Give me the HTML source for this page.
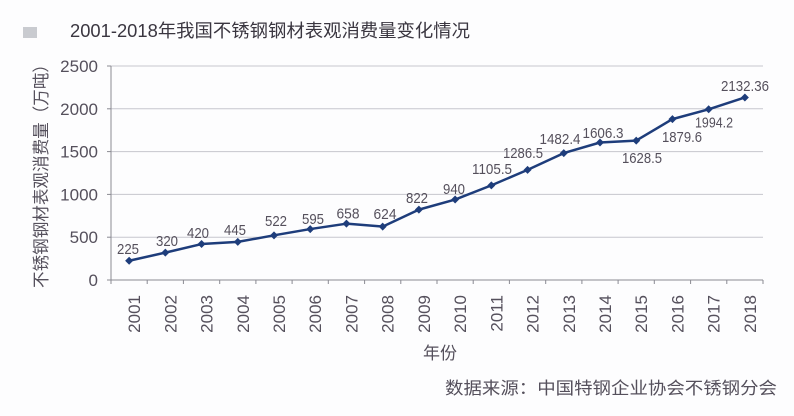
<!DOCTYPE html>
<html><head><meta charset="utf-8"><style>
html,body{margin:0;padding:0;background:#fdfdfe;}
svg{display:block;}
text{font-family:"Liberation Sans","Noto Sans CJK SC",sans-serif;fill:#55505c;}
</style></head><body>
<svg width="794" height="416" viewBox="0 0 794 416" xmlns="http://www.w3.org/2000/svg">
<rect x="0" y="0" width="794" height="416" fill="#fdfdfe"/>
<rect x="23" y="27" width="14" height="11" fill="#c9cbd0"/>
<text x="70" y="37" font-size="18" textLength="400" lengthAdjust="spacingAndGlyphs" style="fill:#3a3640">2001-2018年我国不锈钢钢材表观消费量变化情况</text>

<g stroke="#c6c6cd" stroke-width="1">
<line x1="111" y1="66" x2="763" y2="66"/>
<line x1="111" y1="108.8" x2="763" y2="108.8"/>
<line x1="111" y1="151.6" x2="763" y2="151.6"/>
<line x1="111" y1="194.4" x2="763" y2="194.4"/>
<line x1="111" y1="237.2" x2="763" y2="237.2"/>
</g>
<g stroke="#8a8a92" stroke-width="1">
<line x1="111" y1="66" x2="111" y2="280"/>
<line x1="111" y1="280" x2="763" y2="280"/>
<line x1="107" y1="66" x2="111" y2="66"/>
<line x1="107" y1="108.8" x2="111" y2="108.8"/>
<line x1="107" y1="151.6" x2="111" y2="151.6"/>
<line x1="107" y1="194.4" x2="111" y2="194.4"/>
<line x1="107" y1="237.2" x2="111" y2="237.2"/>
<line x1="107" y1="280" x2="111" y2="280"/>
<line x1="111" y1="280" x2="111" y2="284"/>
<line x1="147.2" y1="280" x2="147.2" y2="284"/>
<line x1="183.4" y1="280" x2="183.4" y2="284"/>
<line x1="219.7" y1="280" x2="219.7" y2="284"/>
<line x1="255.9" y1="280" x2="255.9" y2="284"/>
<line x1="292.1" y1="280" x2="292.1" y2="284"/>
<line x1="328.3" y1="280" x2="328.3" y2="284"/>
<line x1="364.6" y1="280" x2="364.6" y2="284"/>
<line x1="400.8" y1="280" x2="400.8" y2="284"/>
<line x1="437" y1="280" x2="437" y2="284"/>
<line x1="473.2" y1="280" x2="473.2" y2="284"/>
<line x1="509.4" y1="280" x2="509.4" y2="284"/>
<line x1="545.7" y1="280" x2="545.7" y2="284"/>
<line x1="581.9" y1="280" x2="581.9" y2="284"/>
<line x1="618.1" y1="280" x2="618.1" y2="284"/>
<line x1="654.3" y1="280" x2="654.3" y2="284"/>
<line x1="690.6" y1="280" x2="690.6" y2="284"/>
<line x1="726.8" y1="280" x2="726.8" y2="284"/>
<line x1="763" y1="280" x2="763" y2="284"/>
</g>

<g font-size="17" text-anchor="end">
<text x="98" y="72">2500</text>
<text x="98" y="114.8">2000</text>
<text x="98" y="157.6">1500</text>
<text x="98" y="200.4">1000</text>
<text x="98" y="243.2">500</text>
<text x="98" y="286">0</text>
</g>

<text transform="translate(47,172) rotate(-90)" font-size="17" text-anchor="middle" textLength="232" lengthAdjust="spacingAndGlyphs">不锈钢钢材表观消费量（万吨）</text>

<g font-size="17" text-anchor="end">
<text transform="translate(140,295) rotate(-90)">2001</text>
<text transform="translate(176.3,295) rotate(-90)">2002</text>
<text transform="translate(212.6,295) rotate(-90)">2003</text>
<text transform="translate(248.8,295) rotate(-90)">2004</text>
<text transform="translate(285,295) rotate(-90)">2005</text>
<text transform="translate(321.2,295) rotate(-90)">2006</text>
<text transform="translate(357.4,295) rotate(-90)">2007</text>
<text transform="translate(393.7,295) rotate(-90)">2008</text>
<text transform="translate(429.9,295) rotate(-90)">2009</text>
<text transform="translate(466.1,295) rotate(-90)">2010</text>
<text transform="translate(502.3,295) rotate(-90)">2011</text>
<text transform="translate(538.6,295) rotate(-90)">2012</text>
<text transform="translate(574.8,295) rotate(-90)">2013</text>
<text transform="translate(611,295) rotate(-90)">2014</text>
<text transform="translate(647.2,295) rotate(-90)">2015</text>
<text transform="translate(683.4,295) rotate(-90)">2016</text>
<text transform="translate(719.7,295) rotate(-90)">2017</text>
<text transform="translate(755.9,295) rotate(-90)">2018</text>
</g>

<text x="440" y="359" font-size="17" text-anchor="middle">年份</text>
<text x="445" y="394" font-size="17" textLength="332" lengthAdjust="spacingAndGlyphs">数据来源：中国特钢企业协会不锈钢分会</text>

<polyline fill="none" stroke="#1e3d7b" stroke-width="2.5" stroke-linejoin="round"
points="129.11,260.74 165.33,252.61 201.56,244.05 237.78,241.91 274,235.32 310.22,229.07 346.44,223.68 382.67,226.59 418.89,209.64 455.11,199.54 491.33,185.37 527.56,169.87 563.78,153.11 600,142.5 636.22,140.6 672.44,119.11 708.67,109.3 744.89,97.47"/>
<g fill="#1e3d7b">
<path d="M129.11,256.74 l4,4 -4,4 -4,-4z"/>
<path d="M165.33,248.61 l4,4 -4,4 -4,-4z"/>
<path d="M201.56,240.05 l4,4 -4,4 -4,-4z"/>
<path d="M237.78,237.91 l4,4 -4,4 -4,-4z"/>
<path d="M274,231.32 l4,4 -4,4 -4,-4z"/>
<path d="M310.22,225.07 l4,4 -4,4 -4,-4z"/>
<path d="M346.44,219.68 l4,4 -4,4 -4,-4z"/>
<path d="M382.67,222.59 l4,4 -4,4 -4,-4z"/>
<path d="M418.89,205.64 l4,4 -4,4 -4,-4z"/>
<path d="M455.11,195.54 l4,4 -4,4 -4,-4z"/>
<path d="M491.33,181.37 l4,4 -4,4 -4,-4z"/>
<path d="M527.56,165.87 l4,4 -4,4 -4,-4z"/>
<path d="M563.78,149.11 l4,4 -4,4 -4,-4z"/>
<path d="M600,138.5 l4,4 -4,4 -4,-4z"/>
<path d="M636.22,136.6 l4,4 -4,4 -4,-4z"/>
<path d="M672.44,115.11 l4,4 -4,4 -4,-4z"/>
<path d="M708.67,105.3 l4,4 -4,4 -4,-4z"/>
<path d="M744.89,93.47 l4,4 -4,4 -4,-4z"/>
</g>

<g font-size="15" text-anchor="middle">
<text x="128" y="254" textLength="22" lengthAdjust="spacingAndGlyphs">225</text>
<text x="167" y="246" textLength="22" lengthAdjust="spacingAndGlyphs">320</text>
<text x="198" y="238" textLength="22" lengthAdjust="spacingAndGlyphs">420</text>
<text x="235" y="235" textLength="22" lengthAdjust="spacingAndGlyphs">445</text>
<text x="276" y="226" textLength="22" lengthAdjust="spacingAndGlyphs">522</text>
<text x="313" y="224" textLength="22" lengthAdjust="spacingAndGlyphs">595</text>
<text x="348" y="218.5" textLength="23" lengthAdjust="spacingAndGlyphs">658</text>
<text x="385" y="219" textLength="23" lengthAdjust="spacingAndGlyphs">624</text>
<text x="417" y="203" textLength="22" lengthAdjust="spacingAndGlyphs">822</text>
<text x="454" y="194" textLength="22" lengthAdjust="spacingAndGlyphs">940</text>
<text x="492" y="174" textLength="40" lengthAdjust="spacingAndGlyphs">1105.5</text>
<text x="523" y="158" textLength="40" lengthAdjust="spacingAndGlyphs">1286.5</text>
<text x="560" y="144" textLength="41" lengthAdjust="spacingAndGlyphs">1482.4</text>
<text x="603" y="138" textLength="41" lengthAdjust="spacingAndGlyphs">1606.3</text>
<text x="642" y="163" textLength="40" lengthAdjust="spacingAndGlyphs">1628.5</text>
<text x="682" y="142" textLength="40" lengthAdjust="spacingAndGlyphs">1879.6</text>
<text x="714" y="127.5" textLength="38" lengthAdjust="spacingAndGlyphs">1994.2</text>
<text x="745" y="91" textLength="48" lengthAdjust="spacingAndGlyphs">2132.36</text>
</g>
</svg>
</body></html>
